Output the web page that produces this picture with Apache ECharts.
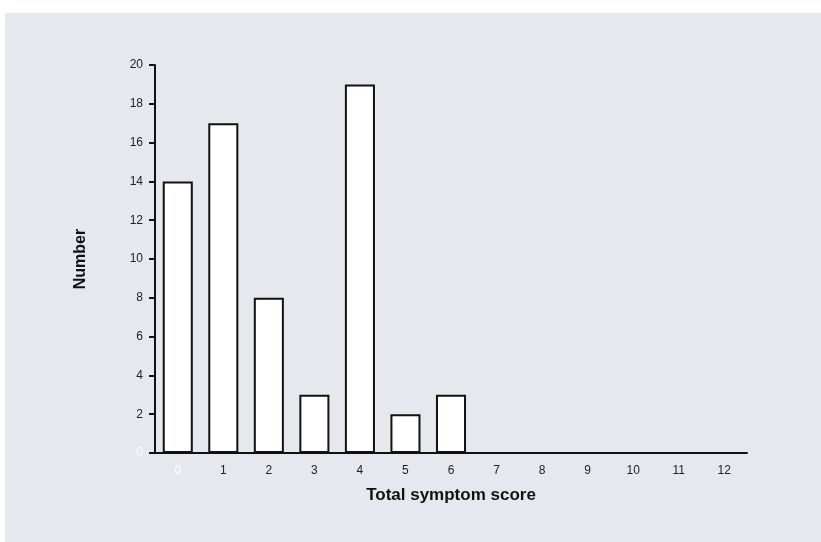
<!DOCTYPE html>
<html><head><meta charset="utf-8">
<script src="https://cdn.jsdelivr.net/npm/echarts@6/dist/echarts.min.js"></script>
<style>html,body{margin:0;padding:0;background:#fff}#panel{position:absolute;left:5px;top:13px;width:816px;height:529px;background:#e5e9ed}#c{position:absolute;left:0;top:0;width:821px;height:542px}</style>
</head><body><div id="panel"></div><div id="c"></div>
<script>
var categories = ['0','1','2','3','4','5','6','7','8','9','10','11','12'];
var counts = [14, 17, 8, 3, 19, 2, 3, 0, 0, 0, 0, 0, 0];
var yTicks = [0, 2, 4, 6, 8, 10, 12, 14, 16, 18, 20];

var chart = echarts.init(document.getElementById('c'), null, {renderer: 'canvas'});
chart.setOption({
  backgroundColor: 'transparent',
  animation: false,
  grid: {left: 155, right: 74, top: 65, bottom: 89, containLabel: false},
  xAxis: {
    type: 'category', data: categories,
    name: 'Total symptom score', nameLocation: 'middle', nameGap: 34,
    nameTextStyle: {fontFamily: 'Liberation Sans', fontWeight: 'bold', fontSize: 17, color: '#111'},
    axisLine: {lineStyle: {color: '#111', width: 2}},
    axisTick: {alignWithLabel: false, length: 6, lineStyle: {color: '#111', width: 2}},
    axisLabel: {fontFamily: 'Liberation Sans', fontSize: 12, margin: 12,
      color: function (v) { return v === '0' ? '#ffffff' : '#222'; }},
    splitLine: {show: false}
  },
  yAxis: {
    type: 'value', min: yTicks[0], max: yTicks[yTicks.length - 1], interval: 2,
    name: 'Number', nameLocation: 'middle', nameGap: 66,
    nameTextStyle: {fontFamily: 'Liberation Sans', fontWeight: 'bold', fontSize: 16, color: '#111'},
    axisLine: {show: true, lineStyle: {color: '#111', width: 2}},
    axisTick: {show: true, length: 6, lineStyle: {color: '#111', width: 2}},
    axisLabel: {fontFamily: 'Liberation Sans', fontSize: 12, margin: 12,
      color: function (v) { return Number(v) === 0 ? '#ffffff' : '#222'; }},
    splitLine: {show: false}
  },
  series: [{
    type: 'bar', data: counts, barCategoryGap: '34%',
    itemStyle: {color: '#ffffff', borderColor: '#111', borderWidth: 2}
  }]
});
</script></body></html>
